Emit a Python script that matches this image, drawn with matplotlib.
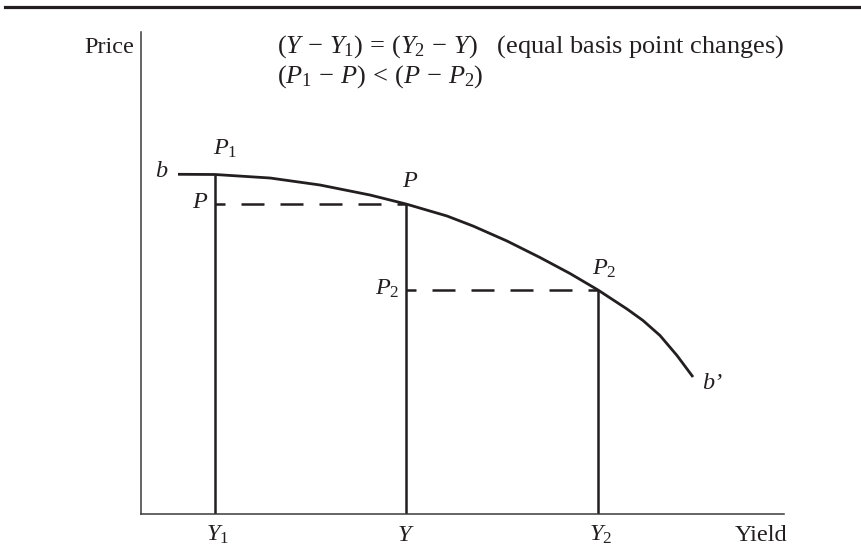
import matplotlib
matplotlib.use("Agg")
import matplotlib.pyplot as plt
from matplotlib.lines import Line2D

plt.rcParams['font.family'] = ['Liberation Serif', 'DejaVu Serif']
plt.rcParams['mathtext.fontset'] = 'custom'
plt.rcParams['mathtext.rm'] = 'Liberation Serif'
plt.rcParams['mathtext.it'] = 'Liberation Serif:italic'

INK = '#231f20'

# price/yield curve b-b' (arbitrary units, origin at the axes corner)
curve_yield = [37, 74, 129, 179, 229, 265, 306, 332, 366, 399, 429, 457, 486, 502, 519, 536, 552]
curve_price = [339.7, 339.5, 336, 329, 319, 310, 298, 288, 273, 256.5, 240.5, 224, 205, 193.5, 178.5, 158.5, 137]

# the three yields and matching prices
yields = [74, 265, 457]
prices = [339.5, 310, 224]
yield_labels = [r'$Y_1$', r'$Y$', r'$Y_2$']
price_labels = [r'$P_1$', r'$P$', r'$P_2$']

fig = plt.figure(figsize=(8.62, 5.6), dpi=100)
ax = fig.add_axes([141 / 862, 46 / 560, 643 / 862, 482 / 560])
ax.set_xlim(0, 643)
ax.set_ylim(0, 482)
ax.set_xticks([])
ax.set_yticks([])
for s in ['top', 'right']:
    ax.spines[s].set_visible(False)
for s in ['left', 'bottom']:
    ax.spines[s].set_linewidth(1.1)
    ax.spines[s].set_color('#3a3a3a')

# top rule
fig.add_artist(Line2D([5 / 862, 1], [1 - 6.5 / 560, 1 - 6.5 / 560], color=INK, lw=2.3))

ax.plot(curve_yield, curve_price, color=INK, lw=2.0, solid_joinstyle='round', solid_capstyle='butt')

# verticals from the axis up to the curve
for x, p in zip(yields, prices):
    ax.plot([x, x], [0, p], color=INK, lw=1.8, solid_capstyle='butt')

# dashed price levels
dash = (5.2, (9.2, 6.4))
ax.plot([yields[0], yields[1]], [prices[1], prices[1]], color=INK, lw=1.8, linestyle=dash)
ax.plot([yields[1], yields[2]], [prices[2], prices[2]], color=INK, lw=1.8, linestyle=dash)

fs = 17.5
kw = dict(fontsize=fs, color=INK, va='baseline', clip_on=False)
kw_note = dict(kw, fontsize=19)

ax.text(-7, 461, 'Price', ha='right', **kw)
ax.text(646, -27, 'Yield', ha='right', **kw)
ax.text(136, 461, r'$(Y\,-\,Y_1)\,=\,(Y_2\,-\,Y)$   (equal basis point changes)', ha='left', **kw_note)
ax.text(136, 431, r'$(P_1\,-\,P)\,<\,(P\,-\,P_2)$', ha='left', **kw_note)

# curve ends
ax.text(20, 337, 'b', ha='center', style='italic', **kw)
ax.text(561, 125, 'b\u2019', ha='left', style='italic', **kw)

# labels on the curve
ax.text(yields[0] - 2, 359, price_labels[0], ha='left', **kw)
ax.text(yields[1] - 4, 327, price_labels[1], ha='left', **kw)
ax.text(yields[2] - 6, 239, price_labels[2], ha='left', **kw)

# labels at the dashed levels
ax.text(yields[0] - 7, prices[1] - 4, price_labels[1], ha='right', **kw)
ax.text(yields[1] - 6, prices[2] - 5, price_labels[2], ha='right', **kw)

# yield labels under the axis
for x, lab in zip(yields, yield_labels):
    ax.text(x - 9, -27, lab, ha='left', **kw)

fig.savefig('out.png', dpi=100)
